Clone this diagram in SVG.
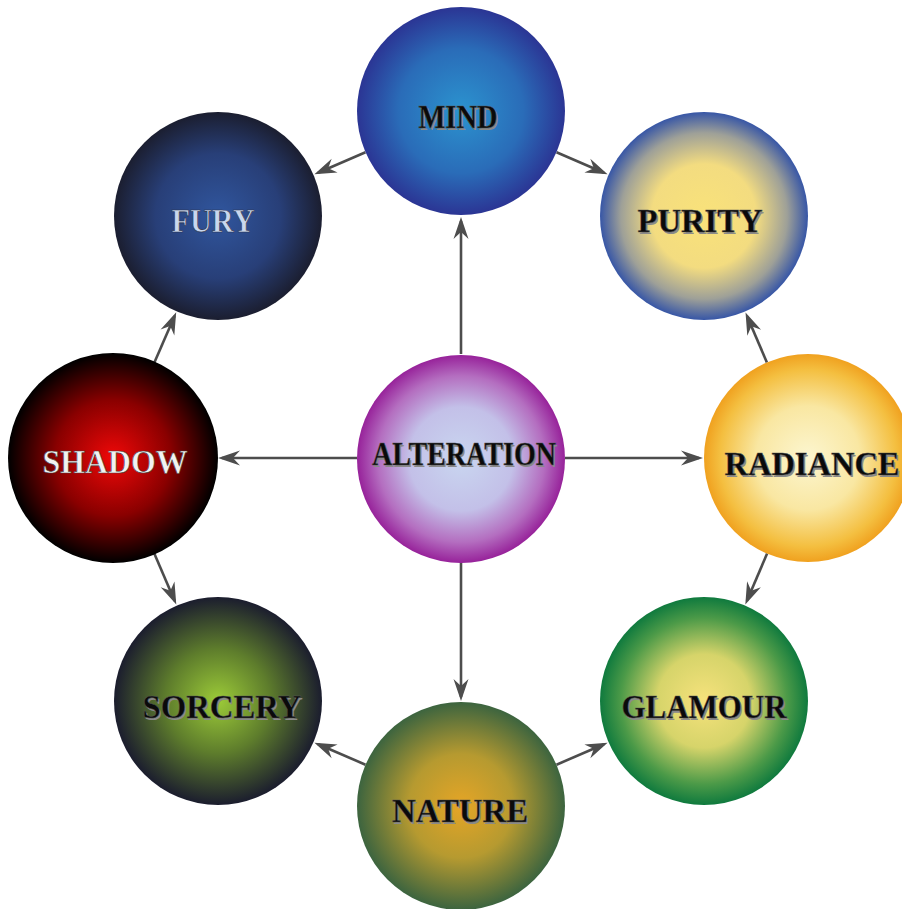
<svg xmlns="http://www.w3.org/2000/svg" width="902" height="909" viewBox="0 0 902 909">
<style>
.conn line{stroke:#4d4d4d;stroke-width:2.6;fill:none;marker-end:url(#arr)}
.lbl{font-family:"Liberation Serif","DejaVu Serif",serif;font-weight:bold;font-size:33px;text-anchor:middle}
.sh{fill:#8a8a8a}
.dk{fill:#0a0a0a;stroke:#555;stroke-width:0.5}
.lt{fill:#c9d7ee;stroke:#2a2f45;stroke-width:0.6}
.wt{fill:#f2f2f2;stroke:#444;stroke-width:0.6}
</style>
<defs>
<marker id="arr" viewBox="-23 -8 24 16" markerWidth="24" markerHeight="16" refX="-4" refY="0" orient="auto" markerUnits="userSpaceOnUse">
<path d="M0,0 L-22,-7.5 L-15,0 L-22,7.5 Z" fill="#4d4d4d"/>
</marker>
<radialGradient id="gMind"><stop offset="0" stop-color="#2b93cf"/><stop offset="0.6" stop-color="#2a6cb8"/><stop offset="1" stop-color="#2b3594"/></radialGradient>
<radialGradient id="gFury"><stop offset="0" stop-color="#30569e"/><stop offset="0.6" stop-color="#283f78"/><stop offset="1" stop-color="#1b1e30"/></radialGradient>
<radialGradient id="gPurity"><stop offset="0" stop-color="#f9e27a"/><stop offset="0.5" stop-color="#f3dc80"/><stop offset="0.8" stop-color="#9ea098"/><stop offset="1" stop-color="#3756a6"/></radialGradient>
<radialGradient id="gShadow"><stop offset="0" stop-color="#f00808"/><stop offset="0.55" stop-color="#8a0000"/><stop offset="1" stop-color="#000000"/></radialGradient>
<radialGradient id="gAlt"><stop offset="0" stop-color="#c9d6f0"/><stop offset="0.5" stop-color="#c3c0e8"/><stop offset="0.8" stop-color="#b46ec0"/><stop offset="1" stop-color="#97229a"/></radialGradient>
<radialGradient id="gRad"><stop offset="0" stop-color="#fcf6d0"/><stop offset="0.5" stop-color="#f9e7a2"/><stop offset="0.85" stop-color="#f4bf40"/><stop offset="1" stop-color="#f0a11f"/></radialGradient>
<radialGradient id="gSorc"><stop offset="0" stop-color="#9ccb38"/><stop offset="0.5" stop-color="#5e7d2c"/><stop offset="1" stop-color="#1b1d2e"/></radialGradient>
<radialGradient id="gGlam"><stop offset="0" stop-color="#f6e27c"/><stop offset="0.45" stop-color="#d6d46a"/><stop offset="0.8" stop-color="#4c9a48"/><stop offset="1" stop-color="#0f7a3e"/></radialGradient>
<radialGradient id="gNat"><stop offset="0" stop-color="#e5a526"/><stop offset="0.5" stop-color="#b69a30"/><stop offset="1" stop-color="#3c643f"/></radialGradient>
</defs>
<rect width="902" height="909" fill="#ffffff"/>
<g id="connectors" class="conn">
<line x1="461" y1="354" x2="461" y2="221"/>
<line x1="357" y1="458" x2="222" y2="458"/>
<line x1="565" y1="458" x2="699" y2="458"/>
<line x1="461" y1="562" x2="461" y2="697"/>
<line x1="365.5" y1="152.3" x2="318.1" y2="172.7"/>
<line x1="556.5" y1="152.3" x2="603.9" y2="172.7"/>
<line x1="766.9" y1="362.4" x2="747.1" y2="316.2"/>
<line x1="767.1" y1="553.6" x2="746.9" y2="600.8"/>
<line x1="556.5" y1="764.7" x2="603.9" y2="744.3"/>
<line x1="365.5" y1="764.7" x2="318.1" y2="744.3"/>
<line x1="154.3" y1="553.5" x2="174.7" y2="600.9"/>
<line x1="154.4" y1="362.6" x2="174.6" y2="316"/>
</g>
<g id="mind">
<circle cx="461" cy="111" r="104" fill="url(#gMind)"/>
<text class="lbl sh" x="459.5" y="129.5" textLength="79" lengthAdjust="spacingAndGlyphs">MIND</text>
<text class="lbl dk" x="458" y="128" textLength="79" lengthAdjust="spacingAndGlyphs">MIND</text>
</g>
<g id="fury">
<circle cx="218" cy="216" r="104" fill="url(#gFury)"/>
<text class="lbl lt" x="213" y="232" textLength="83" lengthAdjust="spacingAndGlyphs">FURY</text>
</g>
<g id="purity">
<circle cx="704" cy="216" r="104" fill="url(#gPurity)"/>
<text class="lbl sh" x="701.5" y="233.5" textLength="125" lengthAdjust="spacingAndGlyphs">PURITY</text>
<text class="lbl dk" x="700" y="232" textLength="125" lengthAdjust="spacingAndGlyphs">PURITY</text>
</g>
<g id="shadow">
<circle cx="113" cy="458" r="105" fill="url(#gShadow)"/>
<text class="lbl wt" x="115" y="473" textLength="145" lengthAdjust="spacingAndGlyphs">SHADOW</text>
</g>
<g id="alteration">
<circle cx="461" cy="459" r="104" fill="url(#gAlt)"/>
<text class="lbl sh" x="465.5" y="466.5" textLength="184" lengthAdjust="spacingAndGlyphs">ALTERATION</text>
<text class="lbl dk" x="464" y="465" textLength="184" lengthAdjust="spacingAndGlyphs">ALTERATION</text>
</g>
<g id="radiance">
<circle cx="808" cy="458" r="104" fill="url(#gRad)"/>
<text class="lbl sh" x="813.5" y="476.5" textLength="175" lengthAdjust="spacingAndGlyphs">RADIANCE</text>
<text class="lbl dk" x="812" y="475" textLength="175" lengthAdjust="spacingAndGlyphs">RADIANCE</text>
</g>
<g id="sorcery">
<circle cx="218" cy="701" r="104" fill="url(#gSorc)"/>
<text class="lbl sh" x="223.5" y="719.5" textLength="159" lengthAdjust="spacingAndGlyphs">SORCERY</text>
<text class="lbl dk" x="222" y="718" textLength="159" lengthAdjust="spacingAndGlyphs">SORCERY</text>
</g>
<g id="glamour">
<circle cx="704" cy="701" r="104" fill="url(#gGlam)"/>
<text class="lbl sh" x="705.5" y="719.5" textLength="165" lengthAdjust="spacingAndGlyphs">GLAMOUR</text>
<text class="lbl dk" x="704" y="718" textLength="165" lengthAdjust="spacingAndGlyphs">GLAMOUR</text>
</g>
<g id="nature">
<circle cx="461" cy="806" r="104" fill="url(#gNat)"/>
<text class="lbl sh" x="461.5" y="823.5" textLength="136" lengthAdjust="spacingAndGlyphs">NATURE</text>
<text class="lbl dk" x="460" y="822" textLength="136" lengthAdjust="spacingAndGlyphs">NATURE</text>
</g>
</svg>
